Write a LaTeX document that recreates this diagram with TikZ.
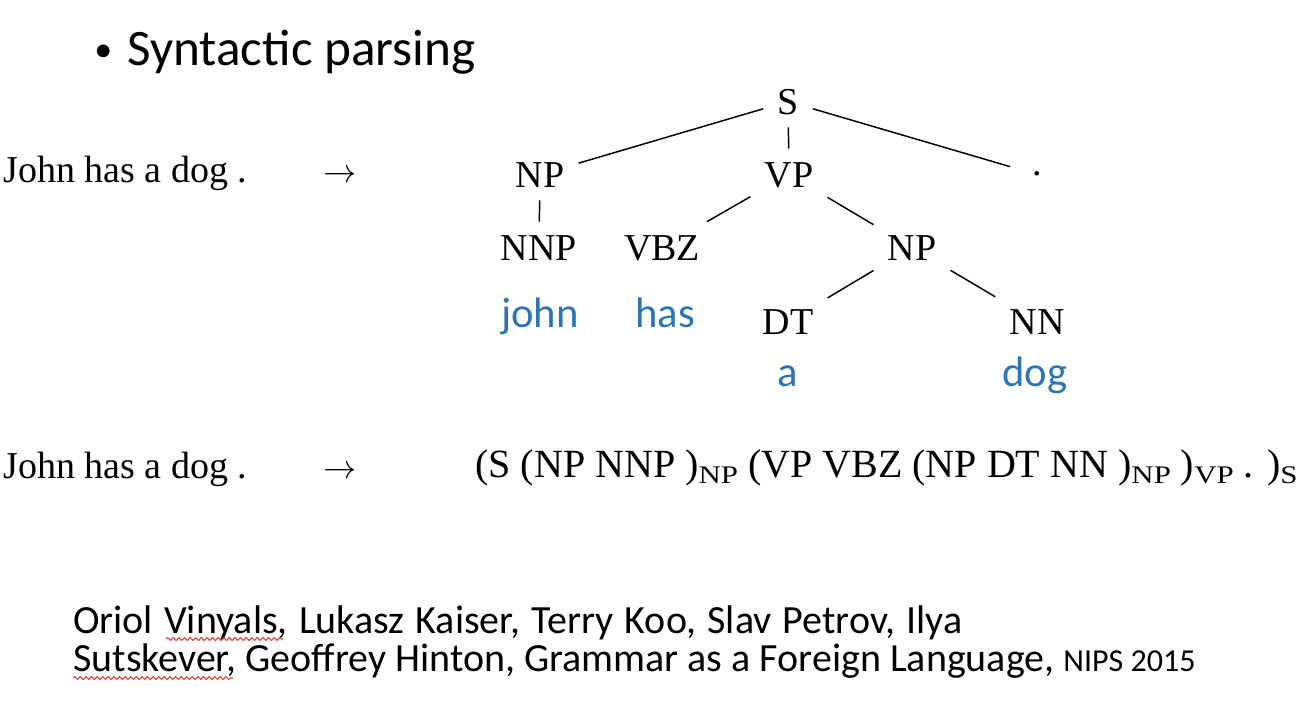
\documentclass[tikz,border=0pt]{standalone}
\usepackage{fontspec}
\usepackage{graphicx}
\setmainfont{Liberation Serif}
\newfontfamily\slidefont{Carlito}
\usetikzlibrary{decorations.pathmorphing}
\definecolor{wordblue}{RGB}{46,117,182}
\definecolor{spellred}{RGB}{226,62,50}
% lowered label that closes a bracket in the linearised tree
\newcommand\bracklab[1]{\raisebox{-4.5pt}{\scalebox{1.22}[1]{\fontsize{19pt}{20pt}\selectfont #1}}}
\tikzset{
  treelab/.style={font=\fontsize{28.5pt}{30pt}\selectfont, text height=18.9pt,
    text depth=0pt, inner xsep=10.5pt, inner ysep=9.75pt},
  word/.style={font=\slidefont\fontsize{32pt}{34pt}\selectfont, text=wordblue,
    anchor=base, inner sep=0pt},
  serifline/.style={font=\fontsize{28.5pt}{30pt}\selectfont, anchor=base west, inner sep=0pt},
  arrowlab/.style={font=\fontsize{28.5pt}{30pt}\selectfont, anchor=base, inner sep=0pt},
  cite/.style={font=\slidefont\fontsize{30pt}{32pt}\selectfont, anchor=base west, inner sep=0pt},
  branch/.style={line width=1.1pt, black},
  squiggle/.style={spellred, line width=0.8pt,
    decorate, decoration={snake, amplitude=1.1pt, segment length=4.2pt}}
}
\begin{document}
\begin{tikzpicture}[x=0.75pt, y=-0.75pt]
  \useasboundingbox (0,0) rectangle (1308,704);

  % heading
  \node[font=\slidefont\fontsize{27pt}{30pt}\selectfont, anchor=base west, inner sep=0pt]
    (bullet) at (94,61) {\textbullet};
  \node[font=\slidefont\fontsize{38.4pt}{40pt}\selectfont, anchor=base west, inner sep=0pt]
    (title) at (127,65) {Syntactic parsing};

  % sentence and arrow, first row
  \node[serifline] (sent1) at (3,182) {John has a dog .};
  \node[arrowlab] (arr1) at (340,182) {$\rightarrow$};

  % parse tree
  \node[treelab] (S)   at (788,101.5) {S};
  \node[treelab] (NPa) at (540,174.5) {NP};
  \node[treelab] (VP)  at (789,174.5) {VP};
  \node[treelab, minimum width=40pt] (dot) at (1037,174.5) {\raisebox{0.3em}{.}};
  \node[treelab] (NNP) at (539,247.5) {NNP};
  \node[treelab] (VBZ) at (662,247.5) {VBZ};
  \node[treelab] (NPb) at (912,247.5) {NP};
  \node[treelab] (DT)  at (788,321.5) {DT};
  \node[treelab] (NN)  at (1037,321.5) {NN};

  \draw[branch] (S) -- (NPa);
  \draw[branch] (S) -- (VP);
  \draw[branch] (S) -- (dot);
  \draw[branch] (NPa) -- (NNP);
  \draw[branch] (VP) -- (VBZ);
  \draw[branch] (VP) -- (NPb);
  \draw[branch] (NPb) -- (DT);
  \draw[branch] (NPb) -- (NN);

  % words under the tags
  \node[word] (wjohn) at (540,327) {john};
  \node[word] (whas)  at (665,327) {has};
  \node[word] (wa)    at (788,386) {a};
  \node[word] (wdog)  at (1035,386) {dog};

  % sentence and arrow, second row, with the bracketed form
  \node[serifline] (sent2) at (3,478) {John has a dog .};
  \node[arrowlab] (arr2) at (340,478) {$\rightarrow$};
  \node[serifline, font=\fontsize{30pt}{32pt}\selectfont] (lin) at (475,477)
    {(S (NP NNP )\bracklab{NP} (VP VBZ (NP DT NN )\bracklab{NP} )\bracklab{VP} . )\bracklab{S}};

  % reference, two tightly set lines
  \node[cite, text depth=0pt] (cite1) at (73,633)
    {\spaceskip=8.4pt Oriol Vinyals, Lukasz Kaiser, Terry Koo, Slav Petrov, Ilya};
  \node[cite] (cite2) at (73,671)
    {Sutskever, Geoffrey Hinton, Grammar as a Foreign Language, {\fontsize{24pt}{26pt}\selectfont NIPS 2015}};

  % spell-check marks under two names
  \draw[squiggle] (166,639) -- (283,639);
  \draw[squiggle] (73,678) -- (233,678);
\end{tikzpicture}
\end{document}
